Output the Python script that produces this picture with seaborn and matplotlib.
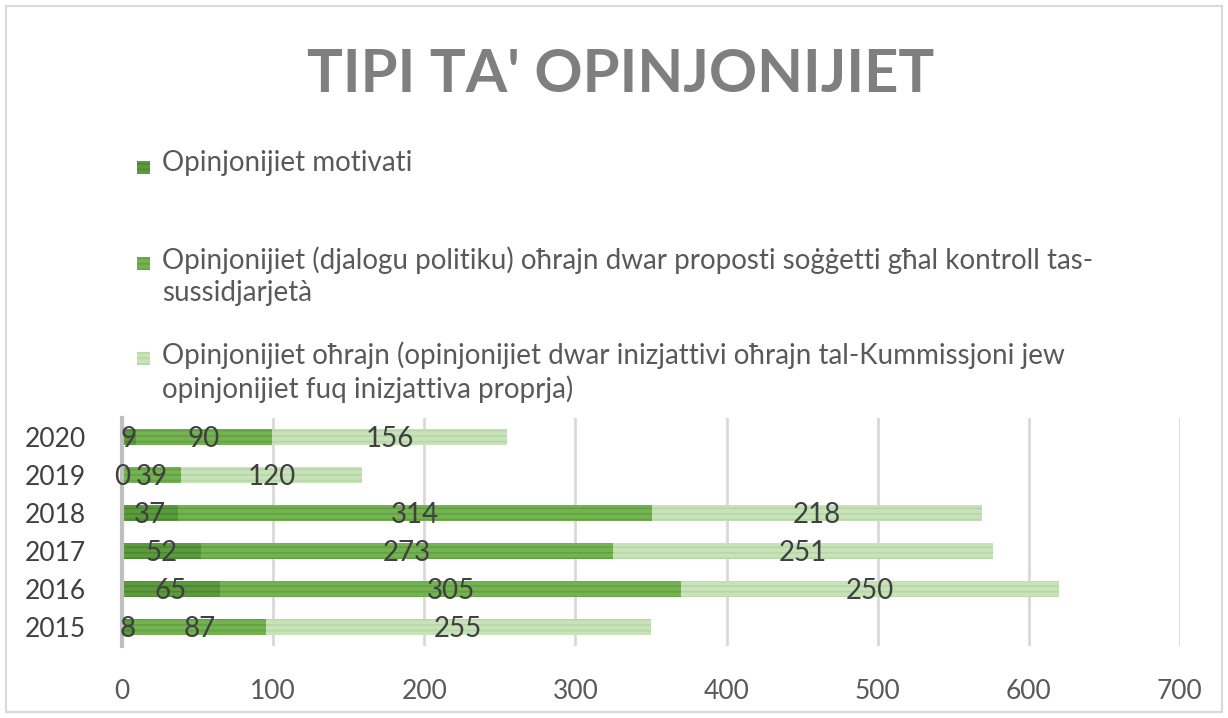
# Stacked horizontal bars: types of opinions per year (2015-2020)
import matplotlib.pyplot as plt
import matplotlib.patches as mpatches
import pandas as pd
import seaborn as sns

years = ["2020", "2019", "2018", "2017", "2016", "2015"]
motivati = [9, 0, 37, 52, 65, 8]
politiku = [90, 39, 314, 273, 305, 87]
ohrajn = [156, 120, 218, 251, 250, 255]

series_labels = [
    "Opinjonijiet motivati",
    "Opinjonijiet (djalogu politiku) oħrajn dwar proposti soġġetti għal kontroll tas-\nsussidjarjetà",
    "Opinjonijiet oħrajn (opinjonijiet dwar inizjattivi oħrajn tal-Kummissjoni jew\nopinjonijiet fuq inizjattiva proprja)",
]
colors = ["#5b9b3d", "#74b351", "#c8e2b9"]
hatch_colors = ["#4c8731", "#63a142", "#b7d7a5"]
title = "TIPI TA' OPINJONIJIET"
xticks = [0, 100, 200, 300, 400, 500, 600, 700]

df = pd.DataFrame({"year": years, "m": motivati, "p": politiku, "o": ohrajn})
df["mp"] = df["m"] + df["p"]
df["total"] = df["mp"] + df["o"]

sns.set_theme(style="white")
plt.rcParams["font.family"] = ["Lato", "DejaVu Sans"]
plt.rcParams["hatch.linewidth"] = 1.2

fig = plt.figure(figsize=(12.28, 7.18), dpi=100)
ax = fig.add_axes([0.0993, 0.1003, 0.8616, 0.3175])

# overlay cumulative bars, longest first
for col, c, hc in zip(["total", "mp", "m"], colors[::-1], hatch_colors[::-1]):
    sns.barplot(
        data=df, y="year", x=col, orient="h", color=c, width=0.44,
        hatch="---", edgecolor=hc, linewidth=0, saturation=1, ax=ax,
    )

for i, row in df.iterrows():
    for left, val in [(0, row["m"]), (row["m"], row["p"]), (row["mp"], row["o"])]:
        ax.text(left + val / 2, i + 0.06, str(val), ha="center", va="center",
                fontsize=20, color="#404040")

ax.set_xlim(0, 700)
ax.set_ylim(5.5, -0.5)
ax.set_xticks(xticks)
ax.set_xlabel("")
ax.set_ylabel("")
ax.grid(axis="x", color="#d9d9d9", linewidth=2)
ax.set_axisbelow(True)
for s in ["top", "right", "bottom"]:
    ax.spines[s].set_visible(False)
ax.spines["left"].set_color("#bfbfbf")
ax.spines["left"].set_linewidth(3)
ax.tick_params(axis="x", length=0, pad=24, labelsize=19, labelcolor="#595959")
ax.tick_params(axis="y", length=0, pad=26, labelsize=19, labelcolor="#404040")

fig.text(0.505, 0.895, title, ha="center", va="center", fontsize=43,
         fontweight="bold", color="#7f7f7f")

# legend drawn by hand so markers sit on the first text line
legend_y = [167, 263, 358]
for lab, c, hc, y in zip(series_labels, colors, hatch_colors, legend_y):
    yf = 1 - y / 718
    fig.patches.append(mpatches.Rectangle((137 / 1228, yf - 7 / 718), 13 / 1228, 13 / 718,
                                          transform=fig.transFigure, facecolor=c,
                                          hatch="---", edgecolor=hc, linewidth=0))
    fig.text(162 / 1228, yf + 17 / 718, lab, ha="left", va="top", fontsize=20,
             color="#595959", linespacing=1.3)

fig.patches.append(mpatches.Rectangle((6 / 1228, 6 / 718), 1216 / 1228, 706 / 718,
                                      transform=fig.transFigure, fill=False,
                                      edgecolor="#d9d9d9", linewidth=1.5))

fig.savefig("out.png", dpi=100)
